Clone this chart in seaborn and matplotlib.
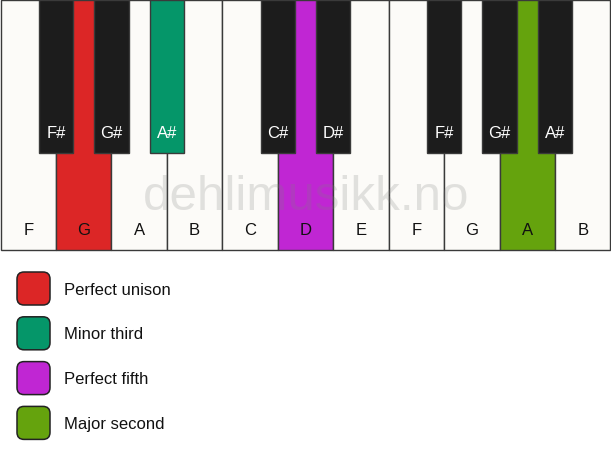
import matplotlib
matplotlib.use("Agg")
import matplotlib.pyplot as plt
from matplotlib.patches import FancyBboxPatch
import seaborn as sns

# 键盘数据
WHITE_NOTES = ["F", "G", "A", "B", "C", "D", "E", "F", "G", "A", "B"]
BLACK_NOTES = ["F#", "G#", "A#", "C#", "D#", "F#", "G#", "A#"]
BLACK_AFTER = [1, 2, 3, 5, 6, 8, 9, 10]  # 黑键位于第 n 个白键的左边界

# 高亮键: 索引 -> 颜色
HIGHLIGHT_WHITE = {1: "#dc2626", 5: "#c026d3", 9: "#65a30d"}
HIGHLIGHT_BLACK = {2: "#059669"}

LEGEND_LABELS = ["Perfect unison", "Minor third", "Perfect fifth", "Major second"]
LEGEND_COLORS = ["#dc2626", "#059669", "#c026d3", "#65a30d"]

# 尺寸（像素）
W, H = 611, 461
KEY_W = 55.45
WHITE_H = 249
BLACK_H = 153
BLACK_W = 34.5

WHITE_FILL = "#fcfbf8"
BLACK_FILL = "#1c1c1c"
EDGE = "#3a3a3a"

sns.set_theme(style="white")
plt.rcParams["font.family"] = ["Liberation Sans", "DejaVu Sans"]

fig = plt.figure(figsize=(W / 100, H / 100), dpi=100)
ax = fig.add_axes([0, 0, 1, 1])
ax.set_xlim(0, W)
ax.set_ylim(H, 0)
ax.axis("off")

# 白键
white_x = [i * KEY_W + 0.5 for i in range(len(WHITE_NOTES))]
white_colors = [HIGHLIGHT_WHITE.get(i, WHITE_FILL) for i in range(len(WHITE_NOTES))]
ax.bar(white_x, WHITE_H, width=KEY_W, bottom=0.5, align="edge",
       color=white_colors, edgecolor=EDGE, linewidth=1.0, zorder=1)
for x, note in zip(white_x, WHITE_NOTES):
    ax.text(x + KEY_W / 2, 230, note, ha="center", va="center",
            fontsize=12, color="#111111", zorder=5)

# 黑键
black_x = [n * KEY_W + 0.5 for n in BLACK_AFTER]
black_colors = [HIGHLIGHT_BLACK.get(i, BLACK_FILL) for i in range(len(BLACK_NOTES))]
ax.bar(black_x, BLACK_H, width=BLACK_W, bottom=0.5, align="center",
       color=black_colors, edgecolor=EDGE, linewidth=1.0, zorder=2)
for x, note in zip(black_x, BLACK_NOTES):
    ax.text(x, 133, note, ha="center", va="center",
            fontsize=12, color="white", zorder=5)

# 水印
ax.text(306, 210, "dehlimusikk.no", ha="center", va="baseline",
        fontsize=35.5, color="#808080", alpha=0.22, zorder=6)

# 图例
for i, (label, color) in enumerate(zip(LEGEND_LABELS, LEGEND_COLORS)):
    y0 = 272 + i * 44.8
    box = FancyBboxPatch((17, y0), 33, 33,
                         boxstyle="round,pad=0,rounding_size=7",
                         facecolor=color, edgecolor="#222222", linewidth=1.1, zorder=3)
    ax.add_patch(box)
    ax.text(64, y0 + 18, label, ha="left", va="center",
            fontsize=12, color="#111111")

fig.savefig("out.png", dpi=100)
